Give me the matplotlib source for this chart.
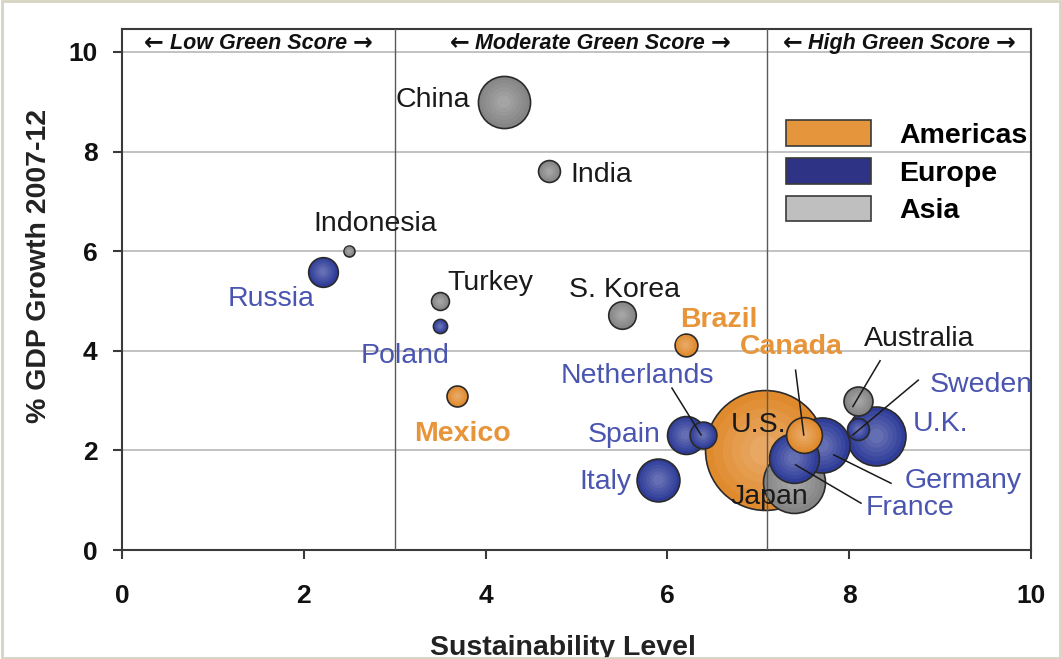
# -*- coding: utf-8 -*-
"""
Bubble chart: GDP growth 2007-12 against sustainability level,
bubble area ~ economy size, coloured by region.
"""

#%% IMPORTS
# ----------------------
import numpy as np
import matplotlib
matplotlib.use('Agg')
import matplotlib.pyplot as plt
from matplotlib.colors import to_rgb
from matplotlib.patches import Patch, Rectangle
# ----------------------

#%% DATA
# ----------------------
countries = ['U.S.', 'Japan', 'China', 'U.K.', 'Germany', 'France', 'Italy',
             'Spain', 'Canada', 'Australia', 'Russia', 'S. Korea',
             'Netherlands', 'Brazil', 'India', 'Mexico', 'Sweden', 'Turkey',
             'Poland', 'Indonesia']
regions = ['Americas', 'Asia', 'Asia', 'Europe', 'Europe', 'Europe', 'Europe',
           'Europe', 'Americas', 'Asia', 'Europe', 'Asia',
           'Europe', 'Americas', 'Asia', 'Americas', 'Europe', 'Asia',
           'Europe', 'Asia']
sustainability = [7.07, 7.39, 4.2, 8.3, 7.7, 7.39, 5.9,
                  6.2, 7.5, 8.1, 2.21, 5.5,
                  6.39, 6.2, 4.7, 3.69, 8.1, 3.5,
                  3.5, 2.5]
gdp_growth = [2.0, 1.37, 9.0, 2.29, 2.1, 1.85, 1.41,
              2.31, 2.31, 2.99, 5.59, 4.72,
              2.31, 4.12, 7.6, 3.09, 2.42, 4.99,
              4.49, 6.0]
# relative bubble area (economy size)
bubble_size = [360, 96, 68, 87, 76, 62, 46,
               36, 32, 21, 22, 19,
               18, 13, 12, 11, 12, 8,
               5, 3]
band_labels = ['Low Green Score', 'Moderate Green Score', 'High Green Score']
band_edges = [0, 3, 7.1, 10]
legend_order = ['Americas', 'Europe', 'Asia']
# ----------------------

#%% STYLE
# ----------------------
fill = {'Americas': '#E08A2E', 'Europe': '#2F3D99', 'Asia': '#858585'}
legend_fill = {'Americas': '#E5963D', 'Europe': '#2E3386', 'Asia': '#BFBFBF'}
text_col = {'Americas': '#E8953A', 'Europe': '#4A55B0', 'Asia': '#1A1A1A'}
FONT = ['Liberation Sans', 'DejaVu Sans']
plt.rcParams['font.family'] = FONT
band_centers = [1.5, 5.15, 8.55]
LABEL_FS = 20.5

# label placement (data coords), alignment and optional leader line
labels = {
    'China':       (3.83, 9.04, 'right', None),
    'India':       (4.93, 7.53, 'left', None),
    'Indonesia':   (2.78, 6.55, 'center', None),
    'Russia':      (1.64, 5.04, 'center', None),
    'Turkey':      (3.58, 5.36, 'left', None),
    'Poland':      (3.11, 3.90, 'center', None),
    'Mexico':      (3.75, 2.33, 'center', None),
    'S. Korea':    (5.53, 5.22, 'center', None),
    'Brazil':      (6.57, 4.62, 'center', None),
    'Canada':      (7.36, 4.08, 'center', ((7.41, 3.61), (7.50, 2.31))),
    'Australia':   (8.77, 4.24, 'center', ((8.34, 3.80), (8.04, 2.88))),
    'Netherlands': (5.67, 3.49, 'center', ((6.05, 3.25), (6.37, 2.31))),
    'Sweden':      (8.89, 3.31, 'left', ((8.76, 3.41), (8.04, 2.31))),
    'Spain':       (5.93, 2.31, 'right', None),
    'U.S.':        (7.00, 2.50, 'center', None),
    'U.K.':        (8.70, 2.53, 'left', None),
    'Italy':       (5.61, 1.37, 'right', None),
    'Germany':     (8.61, 1.39, 'left', ((8.46, 1.34), (7.83, 1.91))),
    'Japan':       (7.12, 1.06, 'center', None),
    'France':      (8.18, 0.84, 'left', ((8.13, 0.94), (7.41, 1.71))),
}
# ----------------------

def lighten(c, t):
    return tuple(np.array(to_rgb(c)) * (1 - t) + t)

#%% FIGURE
# ----------------------
fig = plt.figure(figsize=(10.62, 6.59), dpi=100)
fig.patches.append(Rectangle((0.002, 0.002), 0.996, 0.996, transform=fig.transFigure,
                             fill=False, edgecolor='#D8D4C2', linewidth=2))
ax = fig.add_axes([0.1149, 0.1654, 0.8559, 0.7906])
ax.set_xlim(0, 10)
ax.set_ylim(0, 10.46)

# grid + band separators
for yv in [2, 4, 6, 8, 10]:
    ax.axhline(yv, color='#B8B8B8', linewidth=1.2, zorder=0)
for xv in band_edges[1:-1]:
    ax.axvline(xv, color='#5A5A5A', linewidth=1.0, zorder=8)

renderer = fig.canvas.get_renderer()
inv = ax.transData.inverted()
for xc, lab in zip(band_centers, band_labels):
    t = ax.text(xc, 10.17, lab, ha='center', va='center', fontsize=15.5,
                fontweight='bold', fontstyle='italic', color='#111111', zorder=9)
    bb = t.get_window_extent(renderer)
    x_left = inv.transform((bb.x0 - 6, bb.y0))[0]
    x_right = inv.transform((bb.x1 + 6, bb.y0))[0]
    ax.text(x_left, 10.19, '\u2190', ha='right', va='center', fontsize=17,
            fontweight='bold', family='DejaVu Sans', color='#111111', zorder=9)
    ax.text(x_right, 10.19, '\u2192', ha='left', va='center', fontsize=17,
            fontweight='bold', family='DejaVu Sans', color='#111111', zorder=9)

# bubbles, biggest first, each drawn with a soft radial shading
order = np.argsort(bubble_size)[::-1]
for n, i in enumerate(order):
    s = bubble_size[i] * 20.7
    base = fill[regions[i]]
    z = 2 + n * 0.01
    ax.scatter(sustainability[i], gdp_growth[i], s=s, color=base,
               edgecolors='#2A2A2A', linewidths=1.2, zorder=z)
    for k, f in enumerate([0.85, 0.7, 0.55, 0.4, 0.25]):
        ax.scatter(sustainability[i], gdp_growth[i], s=s * f ** 2,
                   color=lighten(base, 0.05 * (k + 1)), edgecolors='none',
                   zorder=z + 0.001 * (k + 1))

# country labels
for i, name in enumerate(countries):
    lx, ly, ha, leader = labels[name]
    col = text_col[regions[i]]
    bold = regions[i] == 'Americas' and name != 'U.S.'
    if name in ('U.S.', 'Japan'):
        col = '#1A1A1A'
    ax.text(lx, ly, name, ha=ha, va='center', fontsize=LABEL_FS, color=col,
            fontweight='bold' if bold else 'normal', zorder=10)
    if leader is not None:
        (x0, y0), (x1, y1) = leader
        ax.plot([x0, x1], [y0, y1], color='#1A1A1A', linewidth=1.1, zorder=9)

# legend
handles = [Patch(facecolor=legend_fill[r], edgecolor='#3A3A3A', linewidth=1.2, label=r)
           for r in legend_order]
ax.legend(handles=handles, loc='upper left', bbox_to_anchor=(0.730, 0.825),
          frameon=False, prop=dict(family=FONT, weight='bold', size=20.5),
          handlelength=3.0, handleheight=1.0, handletextpad=1.0,
          labelspacing=0.33, borderpad=0, borderaxespad=0)

# axes styling
for sp in ax.spines.values():
    sp.set_color('#3A3A3A')
    sp.set_linewidth(1.5)
ax.set_xticks([0, 2, 4, 6, 8, 10])
ax.set_yticks([0, 2, 4, 6, 8, 10])
ax.tick_params(axis='both', direction='out', length=6.5, width=1.5, color='#3A3A3A')
ax.tick_params(axis='x', pad=18)
ax.tick_params(axis='y', pad=11)
for t in ax.get_xticklabels() + ax.get_yticklabels():
    t.set_fontweight('bold')
    t.set_fontsize(19)
    t.set_color('#111111')

ax.set_ylabel('% GDP Growth 2007-12', fontweight='bold', fontsize=20.5, color='#222222')
ax.yaxis.set_label_coords(-0.077, 0.545)
ax.set_xlabel('Sustainability Level', fontweight='bold', fontsize=20.5,
              color='#222222', va='top')
ax.xaxis.set_label_coords(0.485, -0.163)

fig.savefig('out.png', dpi=100)
